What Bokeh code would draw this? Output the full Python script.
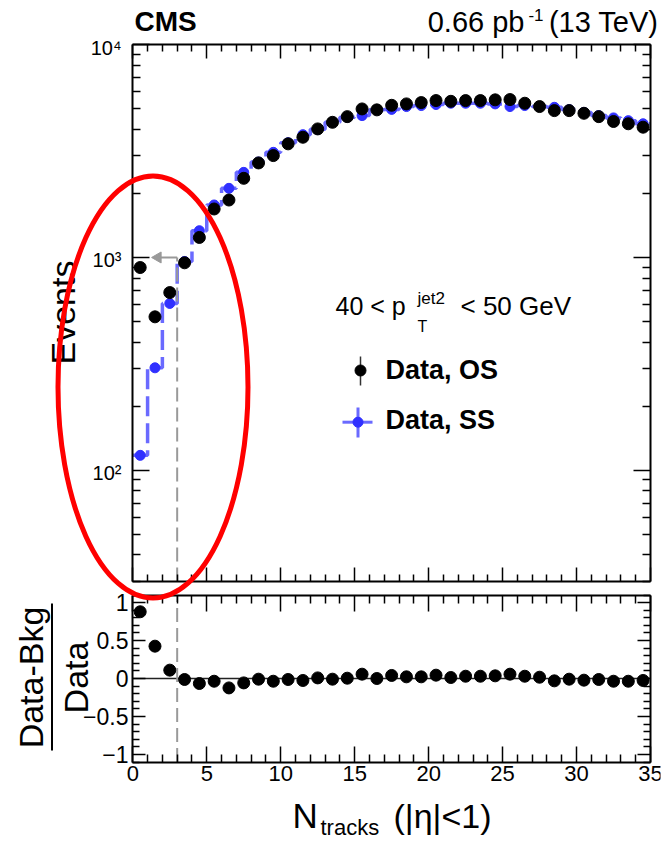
import numpy as np
from bokeh.plotting import figure
from bokeh.models import (Range1d, FixedTicker, LinearAxis, LogAxis, Label,
                          LogScale, LinearScale)
from bokeh.core.properties import value
from bokeh.embed import file_html
from bokeh.resources import INLINE

# ---------------- data ----------------
n_tracks = [i + 0.5 for i in range(35)]          # bin centres, N_tracks (|eta|<1)
bin_edges = list(range(0, 36))                   # bin edges 0..35
os_events = [897, 526, 684, 944, 1242, 1690, 1862, 2355, 2782, 3012,
             3420, 3673, 4020, 4318, 4591, 4990, 4940, 5190, 5270, 5346,
             5463, 5420, 5463, 5463, 5506, 5522, 5308, 5120, 4900, 4900,
             4760, 4591, 4355, 4250, 4095]
ss_events = [117.5, 303, 608, 958, 1336, 1765, 2113, 2512, 2810, 3120,
             3465, 3777, 4000, 4318, 4560, 4643, 4940, 4966, 5120, 5176,
             5234, 5308, 5308, 5308, 5270, 5120, 5176, 5120, 5080, 4953,
             4807, 4643, 4528, 4395, 4250]
ratio = [0.879, 0.426, 0.11, -0.013, -0.066, -0.036, -0.124, -0.058, -0.009, -0.036,
         -0.013, -0.026, 0.008, -0.009, 0.004, 0.057, 0.0, 0.04, 0.022, 0.022,
         0.044, 0.013, 0.03, 0.03, 0.035, 0.057, 0.03, 0.017, -0.031, -0.009,
         -0.022, -0.013, -0.036, -0.036, -0.026]
x_ticks = [0, 5, 10, 15, 20, 25, 30, 35]
x_tick_labels = ["0", "5", "10", "15", "20", "25", "30", "35"]
y_ticks_top = [100, 1000, 10000]
y_tick_labels_top = ["10²", "10³", "10⁴"]
y_ticks_ratio = [-1, -0.5, 0, 0.5, 1]
y_tick_labels_ratio = ["−1", "−0.5", "0", "0.5", "1"]
cut_ntracks = 3
cut_events = 1000
arrow_tip = 1.4
X_RANGE = (0, 35)
Y_RANGE_TOP = (30, 10000)
Y_RANGE_BOT = (-1.1, 1.1)

# ---------------- geometry (page pixels) ----------------
W, H = 664, 843
MB_L, MB_R, MB_T, MB_B = 8, 4, 8, 6
FR_L, FR_R, FR_T, FR_B = MB_L, W - MB_R, MB_T, H - MB_B
REF_X0, REF_X1 = 132.3, 650.0          # page x of N=0 and N=35
SX = (REF_X1 - REF_X0) / (X_RANGE[1] - X_RANGE[0])
TOP_HI_PX, TOP_LO_PX = 44.2, 581.0     # page y of 1e4 and 30
LOG_LO, LOG_HI = np.log10(Y_RANGE_TOP[0]), np.log10(Y_RANGE_TOP[1])
K = (LOG_HI - LOG_LO) / (TOP_LO_PX - TOP_HI_PX)
BOT_HI_PX, BOT_LO_PX = 594.5, 761.5    # page y of +1.1 and -1.1
M = (Y_RANGE_BOT[1] - Y_RANGE_BOT[0]) / (BOT_LO_PX - BOT_HI_PX)


def dx(px):
    return float(X_RANGE[0] + (px - REF_X0) / SX)


FONT = "Liberation Sans"
GRAY = "#999999"
BLUE_LINE = "#5a5aff"
BLUE_MARK = "#3030ff"

p = figure(width=W, height=H,
           x_range=Range1d(dx(FR_L), dx(FR_R)), y_range=Range1d(FR_B, FR_T),
           x_axis_location=None, y_axis_location=None,
           output_backend="svg", toolbar_location=None,
           min_border_left=MB_L, min_border_right=MB_R,
           min_border_top=MB_T, min_border_bottom=MB_B)
p.extra_y_ranges = {
    "top": Range1d(float(10 ** (LOG_LO - (FR_B - TOP_LO_PX) * K)),
                   float(10 ** (LOG_HI + (TOP_HI_PX - FR_T) * K))),
    "bot": Range1d(float(Y_RANGE_BOT[0] - (FR_B - BOT_LO_PX) * M),
                   float(Y_RANGE_BOT[1] + (BOT_HI_PX - FR_T) * M)),
}
p.extra_y_scales = {"top": LogScale(), "bot": LinearScale()}
p.grid.visible = False
p.outline_line_color = None
p.background_fill_color = "white"
p.border_fill_color = "white"

# ---------------- axes (frames of both panels) ----------------
x_minor = [v for v in range(X_RANGE[0], X_RANGE[1] + 1) if v not in x_ticks]
y_minor_top = [m * 10 ** e for e in (1, 2, 3) for m in range(2, 10)
               if Y_RANGE_TOP[0] <= m * 10 ** e <= Y_RANGE_TOP[1]]
y_minor_bot = [round(float(v), 1) for v in np.arange(-1.1, 1.11, 0.1)
               if round(float(v), 1) not in y_ticks_ratio]
xt = FixedTicker(ticks=x_ticks, minor_ticks=x_minor)
yt_top = FixedTicker(ticks=y_ticks_top, minor_ticks=y_minor_top)
yt_bot = FixedTicker(ticks=y_ticks_ratio, minor_ticks=y_minor_bot)


def add_axis(cls, place, ticker, yname, fixed, bounds, major, minor):
    ax = cls(ticker=ticker, y_range_name=yname, fixed_location=fixed, bounds=bounds)
    ax.major_tick_in = major
    ax.major_tick_out = 0
    ax.minor_tick_in = minor
    ax.minor_tick_out = 0
    ax.axis_line_color = "black"
    ax.axis_line_width = 2
    ax.major_tick_line_width = 1.5
    ax.minor_tick_line_width = 1.5
    ax.major_label_text_font_size = "1px"
    ax.major_label_text_color = None
    ax.major_label_standoff = 0
    p.add_layout(ax, place)


add_axis(LogAxis, "left", yt_top, "top", X_RANGE[0], Y_RANGE_TOP, 17, 8)
add_axis(LogAxis, "right", yt_top, "top", X_RANGE[1], Y_RANGE_TOP, 17, 8)
add_axis(LinearAxis, "above", xt, "top", Y_RANGE_TOP[1], X_RANGE, 14, 7)
add_axis(LinearAxis, "below", xt, "top", Y_RANGE_TOP[0], X_RANGE, 14, 7)
add_axis(LinearAxis, "left", yt_bot, "bot", X_RANGE[0], Y_RANGE_BOT, 13, 7)
add_axis(LinearAxis, "right", yt_bot, "bot", X_RANGE[1], Y_RANGE_BOT, 13, 7)
add_axis(LinearAxis, "above", xt, "bot", Y_RANGE_BOT[1], X_RANGE, 16, 8)
add_axis(LinearAxis, "below", xt, "bot", Y_RANGE_BOT[0], X_RANGE, 16, 8)

# tick labels
p.text(x=[dx(121)] * len(y_ticks_top), y=y_ticks_top, text=y_tick_labels_top, y_range_name="top",
       text_font=value(FONT), text_font_size=value("20px"), text_align="right",
       text_baseline="middle", y_offset=3, text_color="black")
p.text(x=[dx(128)] * len(y_ticks_ratio), y=y_ticks_ratio, text=y_tick_labels_ratio, y_range_name="bot",
       text_font=value(FONT), text_font_size=value("23px"), text_align="right",
       text_baseline="middle", text_color="black")
p.text(x=x_ticks, y=[765] * len(x_ticks), text=x_tick_labels,
       text_font=value(FONT), text_font_size=value("22px"), text_align="center",
       text_baseline="top", text_color="black")

# ---------------- top panel data ----------------
p.step(x=bin_edges, y=ss_events + [ss_events[-1]], mode="after", y_range_name="top",
       line_color=BLUE_LINE, line_width=3.5, line_alpha=0.9, line_dash="20 7")
p.scatter(n_tracks, ss_events, y_range_name="top", size=10,
          fill_color=BLUE_MARK, line_color=BLUE_MARK)
p.scatter(n_tracks, os_events, y_range_name="top", size=12,
          fill_color="black", line_color="black")

# cut line and arrow
p.line([cut_ntracks, cut_ntracks], [Y_RANGE_TOP[0], cut_events], y_range_name="top",
       line_color=GRAY, line_width=2, line_dash="14 6")
p.line([cut_ntracks, arrow_tip + 0.3], [cut_events, cut_events], y_range_name="top",
       line_color=GRAY, line_width=2)
p.scatter([arrow_tip + 0.3], [cut_events], y_range_name="top", marker="triangle",
          angle=np.pi / 2, size=11, fill_color=GRAY, line_color=GRAY)

# ---------------- bottom panel data ----------------
p.line(list(X_RANGE), [0, 0], y_range_name="bot", line_color="#222222", line_width=1.5)
p.line([cut_ntracks, cut_ntracks], list(Y_RANGE_BOT), y_range_name="bot",
       line_color=GRAY, line_width=2, line_dash="14 6")
p.scatter(n_tracks, ratio, y_range_name="bot", size=12, fill_color="black", line_color="black")


# ---------------- texts (page coordinates of the text baseline) ----------------
BASE_SHIFT = 0.38   # Label's alphabetic anchor sits this many em above the drawn baseline


def add_label(text, px, py, size, bold=False, align="left", angle=0.0):
    if angle:
        px = px - BASE_SHIFT * size
    else:
        py = py - BASE_SHIFT * size
    p.add_layout(Label(x=dx(px), y=py, text=text, text_font=FONT, text_font_size=f"{size}px",
                       text_font_style="bold" if bold else "normal", text_color="black",
                       text_align=align, text_baseline="alphabetic", angle=angle))


add_label("CMS", 134, 32, 28, bold=True)
add_label("(13 TeV)", 658, 33, 29, align="right")
add_label("-1", 543, 21, 17, align="right")
add_label("0.66 pb", 524, 33, 29, align="right")
add_label("Events", 75, 312, 34, angle=np.pi / 2, align="center")

add_label("40 < p", 335, 315, 25)
add_label("jet2", 417, 304, 17)
add_label("T", 417, 332, 16)
add_label("< 50 GeV", 460, 315, 26)

# legend
p.segment(x0=[dx(360)], y0=[356], x1=[dx(360)], y1=[385], line_color="#333333", line_width=1.5)
p.scatter([dx(360)], [370], size=11, fill_color="black", line_color="black")
add_label("Data, OS", 385, 380, 27, bold=True)
p.segment(x0=[dx(342), dx(357.5)], y0=[421.7, 407], x1=[dx(372), dx(357.5)], y1=[421.7, 437],
          line_color=BLUE_LINE, line_width=3, line_alpha=0.9)
p.scatter([dx(357.5)], [421.7], size=10, fill_color=BLUE_MARK, line_color=BLUE_MARK)
add_label("Data, SS", 385, 430, 27, bold=True)

# ratio y title as a fraction
add_label("Data-Bkg", 43, 677, 34, angle=np.pi / 2, align="center")
add_label("Data", 88, 677, 34, angle=np.pi / 2, align="center")
p.segment(x0=[dx(51.5)], y0=[603], x1=[dx(51.5)], y1=[750], line_color="black", line_width=2)

# x title
add_label("N", 292, 828, 35)
add_label("tracks", 320, 835, 22)
add_label("(|η|<1)", 393, 828, 34)

# red ellipse drawn over the figure
p.ellipse(x=[dx(152.5)], y=[386.5], width=[190], height=[422],
          width_units="screen", height_units="screen",
          fill_color=None, line_color="#ff0000", line_width=5, level="overlay")

open("out.html", "w").write(file_html(p, INLINE))
